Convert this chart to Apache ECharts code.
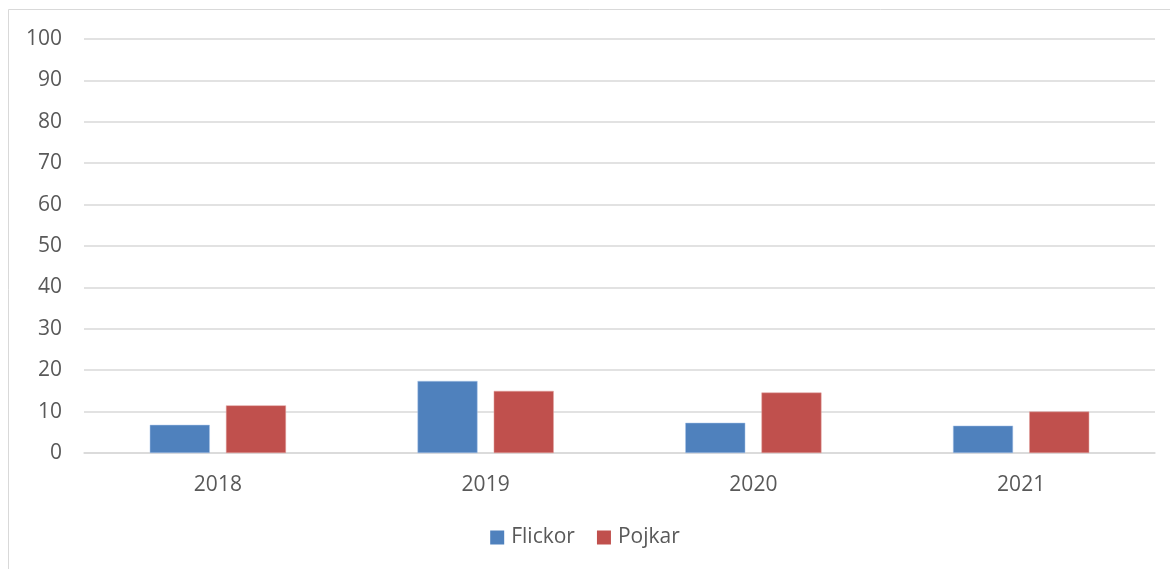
<!DOCTYPE html>
<html lang="sv">
<head>
    <meta charset="UTF-8">
    <title>Flickor och Pojkar</title>
    <script src="https://cdn.jsdelivr.net/npm/echarts@6/dist/echarts.min.js"></script>
    <style>
        html, body { margin: 0; padding: 0; background: #fff; }
    </style>
</head>
<body>
<div id="main" style="width: 1170px;height:569px;"></div>
<script type="text/javascript">
    var years = ['2018', '2019', '2020', '2021'];
    var flickor = [6.8, 17.4, 7.3, 6.6];
    var pojkar = [11.5, 15.0, 14.6, 10.0];

    var myChart = echarts.init(document.getElementById('main'));
    var textColor = '#595959';
    var lineColor = '#d9d9d9';
    var fontFamily = '"Open Sans", "Liberation Sans", sans-serif';

    var option = {
        backgroundColor: '#fff',
        animation: false,
        textStyle: { fontFamily: fontFamily },
        graphic: [{
            type: 'rect',
            shape: { x: 8.5, y: 9.5, width: 1170, height: 600 },
            style: { fill: 'none', stroke: lineColor, lineWidth: 1 },
            silent: true
        }],
        grid: {
            left: 84,
            right: 15,
            top: 39,
            bottom: 116
        },
        legend: {
            top: 522,
            left: 'center',
            padding: 5,
            itemWidth: 14,
            itemHeight: 14,
            itemGap: 22,
            icon: 'rect',
            itemStyle: { borderWidth: 0 },
            textStyle: { color: textColor, fontSize: 21, fontFamily: fontFamily, padding: [0, 0, 0, 2] },
            data: ['Flickor', 'Pojkar']
        },
        xAxis: {
            type: 'category',
            data: years,
            axisLine: { show: true, lineStyle: { color: lineColor, width: 1.5 } },
            axisTick: { show: false },
            axisLabel: { color: textColor, fontSize: 21, margin: 22 }
        },
        yAxis: {
            type: 'value',
            min: 0,
            max: 100,
            interval: 10,
            axisLine: { show: false },
            axisTick: { show: false },
            axisLabel: { color: textColor, fontSize: 21, margin: 22 },
            splitLine: { lineStyle: { color: lineColor, width: 1.5 } }
        },
        series: [
            {
                name: 'Flickor',
                type: 'bar',
                data: flickor,
                barWidth: 60,
                barGap: '27%',
                itemStyle: { color: '#4f81bd', borderColor: '#a9c4e8', borderWidth: 0.5 }
            },
            {
                name: 'Pojkar',
                type: 'bar',
                data: pojkar,
                barWidth: 60,
                itemStyle: { color: '#c0504d', borderColor: '#e3a3a1', borderWidth: 0.5 }
            }
        ]
    };
    myChart.setOption(option);
</script>
</body>
</html>
